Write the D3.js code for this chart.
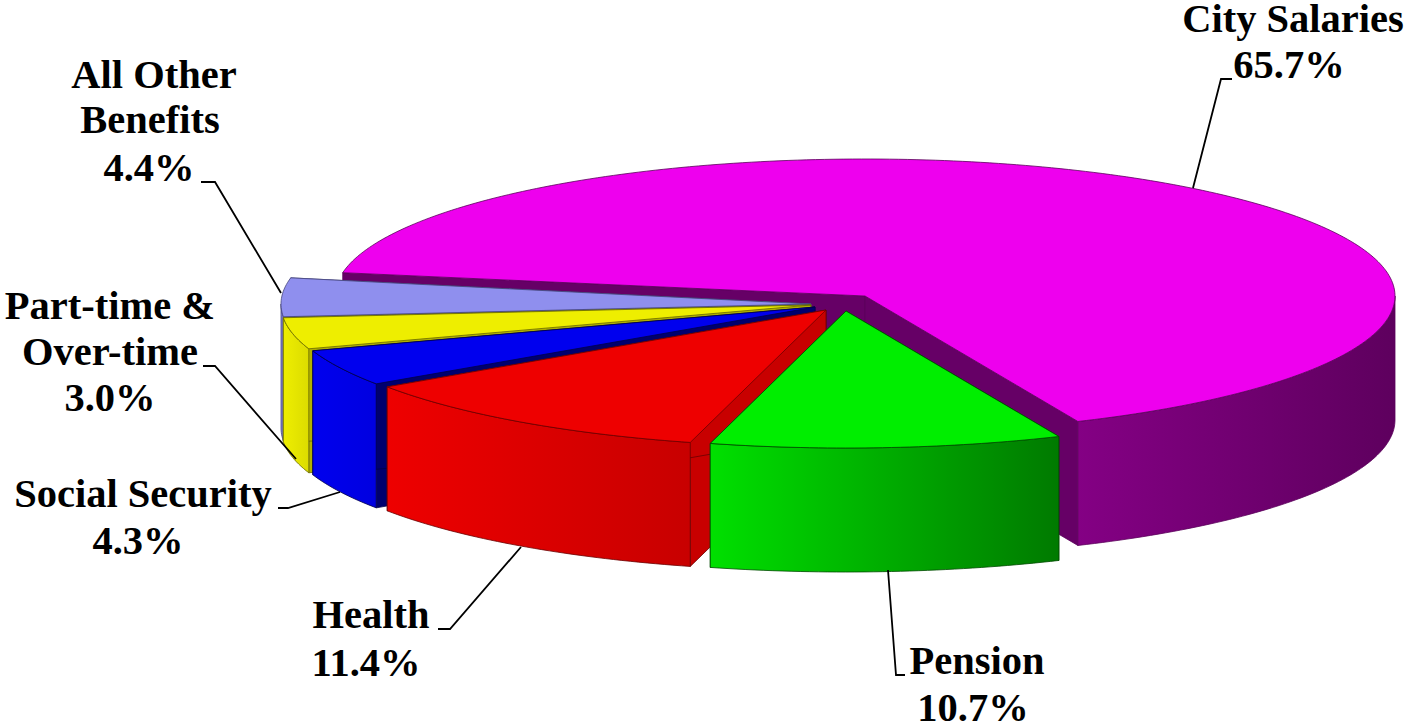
<!DOCTYPE html>
<html>
<head>
<meta charset="utf-8">
<script src="https://cdn.jsdelivr.net/npm/d3@7"></script>
<style>
html,body{margin:0;padding:0;background:#fff;}
svg{display:block;}
text{font-family:"Liberation Serif","Times New Roman",serif;font-weight:bold;font-size:40.5px;fill:#000;text-anchor:middle;}
</style>
</head>
<body>
<svg id="c" width="1405" height="726"></svg>
<script>
// Data
const categories = ["City Salaries","Pension","Health","Social Security","Part-time & Over-time","All Other Benefits"];
const values = [65.7,10.7,11.4,4.3,3.0,4.4];
const valueLabels = ["65.7%","10.7%","11.4%","4.3%","3.0%","4.4%"];

// Styles
const topColors = ["#ee00ee","#00ee00","#ee0000","#0000ee","#eeee00","#8f8fee"];
const sideLeft  = ["#840084","#00e000","#ee0000","#0000ee","#eeee00","#8080e0"];
const sideRight = ["#5e005e","#007a00","#c80000","#0000e0","#dcdc00","#8080e0"];
const wallColors= ["#660066","#00a000","#c80000","#00006e","#b0b000","#6060b0"];
const edgeColors= ["#5a005a","#004a00","#6a0000","#00004a","#6a6a00","#45457a"];

// Layout
const apexX = [865,846,826,815,811,811];
const apexY = [296,311,310,307,305,304];
const rx = 530, ry = 137, depth = 124;
const startDeg = 279.8;
const startNudgeDeg = [0,0,0,0,0,2.5];
const endNudgeDeg = [0,0,0,0,2.5,3];
const labelLines = [["City Salaries"],["Pension"],["Health"],["Social Security"],["Part-time &","Over-time"],["All Other","Benefits"]];
const labelX = [[1293,1289],[977,973],[371,366],[143,138],[110,110,110],[154,150,149]];
const labelY = [[32,78],[674,721],[628,676],[507,554],[319,365,411],[88,133,181]];
const leaders = [
  [[1232,79],[1221,79],[1193,188]],
  [[905,675],[896,675],[888,570]],
  [[438,629],[450,629],[521,547]],
  [[278,508],[288,508],[340,492]],
  [[203,366],[215,366],[296,459]],
  [[201,182],[215,182],[281,293]]
];

const svg = d3.select("#c");
const defs = svg.append("defs");
const rad = d => d*Math.PI/180;
const sx = d3.scaleLinear().domain([-1,1]).range([-rx,rx]);
const sy = d3.scaleLinear().domain([-1,1]).range([ry,-ry]);
const pie = d3.pie().sort(null)
  .startAngle(rad(startDeg))
  .endAngle(rad(startDeg)+2*Math.PI*d3.sum(values)/100);
const arcs = pie(values).map((a,i)=>({
  startAngle:a.startAngle+rad(startNudgeDeg[i]),
  endAngle:a.endAngle+rad(endNudgeDeg[i])
}));
const line = d3.line();
const pt = (i,a,dy=0) => [apexX[i]+sx(Math.sin(a)), apexY[i]+sy(Math.cos(a))+dy];
const arcPts = (i,a0,a1,dy=0) => {
  const n = Math.max(2,Math.ceil((a1-a0)/rad(1)));
  return d3.range(n+1).map(k => pt(i,a0+(a1-a0)*k/n,dy));
};

function drawSlice(i){
  const a = arcs[i], g = svg.append("g").attr("class","slice");
  const apex = [apexX[i],apexY[i]], apexB=[apexX[i],apexY[i]+depth];
  const edge = edgeColors[i];
  // cut walls
  [a.startAngle,a.endAngle].forEach(ang=>{
    g.append("path")
     .attr("d",line([apex,pt(i,ang),pt(i,ang,depth),apexB])+"Z")
     .attr("fill",wallColors[i]).attr("stroke",edge).attr("stroke-width",0.8);
  });
  // outer side: only front half of the ellipse
  [0,2*Math.PI].forEach(k=>{
    const lo=Math.max(a.startAngle,Math.PI/2+k), hi=Math.min(a.endAngle,3*Math.PI/2+k);
    if(hi<=lo) return;
    const top=arcPts(i,lo,hi), bot=arcPts(i,lo,hi,depth).reverse();
    const xs=top.map(p=>p[0]);
    const id="grad"+i+"_"+(k?1:0);
    const gr=defs.append("linearGradient").attr("id",id).attr("gradientUnits","userSpaceOnUse")
      .attr("x1",d3.min(xs)).attr("x2",d3.max(xs)).attr("y1",0).attr("y2",0);
    gr.append("stop").attr("offset",0).attr("stop-color",sideLeft[i]);
    gr.append("stop").attr("offset",1).attr("stop-color",sideRight[i]);
    g.append("path").attr("d",line(top.concat(bot))+"Z")
     .attr("fill",`url(#${id})`).attr("stroke",edge).attr("stroke-width",0.8);
  });
  // top face
  g.append("path")
   .attr("d",line([apex].concat(arcPts(i,a.startAngle,a.endAngle)))+"Z")
   .attr("fill",topColors[i]).attr("stroke",edge).attr("stroke-width",0.8).attr("stroke-linejoin","round");
}
[0,5,4,3,2,1].forEach(drawSlice);

// leaders
svg.append("g").selectAll("path").data(leaders).join("path")
  .attr("d",d=>line(d)).attr("fill","none").attr("stroke","#000").attr("stroke-width",1.8);

// labels
categories.forEach((c,i)=>{
  const lines = labelLines[i].concat([valueLabels[i]]);
  svg.append("g").selectAll("text").data(lines).join("text")
    .attr("x",(d,k)=>labelX[i][k]).attr("y",(d,k)=>labelY[i][k]).text(d=>d);
});
</script>
</body>
</html>
